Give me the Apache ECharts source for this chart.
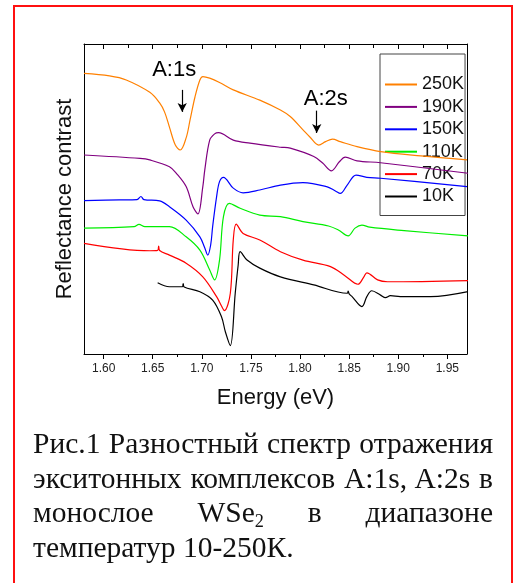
<!DOCTYPE html>
<html>
<head>
<meta charset="utf-8">
<script src="https://cdn.jsdelivr.net/npm/echarts@6/dist/echarts.min.js"></script>
<style>
  html, body { margin: 0; padding: 0; background: #fff; }
  #wrap { position: relative; width: 514px; height: 583px; overflow: hidden; }
  #chart { position: absolute; left: 0; top: 0; width: 514px; height: 583px; }
  #frame { position: absolute; left: 13px; top: 5px; width: 500px; height: 640px;
           border: 2px solid #ff1010; box-sizing: border-box; pointer-events: none; }
  #caption { position: absolute; left: 33px; top: 426px; width: 460px;
             font-family: "Liberation Serif", "Times New Roman", serif; font-size: 29.5px;
             line-height: 34.5px; color: #111; }
  #caption div { white-space: nowrap; }
  #caption .j { text-align: justify; text-align-last: justify; }
  #caption sub { font-size: 0.62em; vertical-align: baseline; position: relative; top: 0.25em; line-height: 0; }
</style>
</head>
<body>
<div id="wrap">
  <div id="chart"></div>
  <div id="frame"></div>
  <div id="caption">
    <div class="j">Рис.1 Разностный спектр отражения</div>
    <div class="j">экситонных комплексов A:1s, A:2s в</div>
    <div class="j">монослое WSe<sub>2</sub> в диапазоне</div>
    <div>температур 10-250К.</div>
  </div>
</div>
<script>
// Reflectance contrast spectra, [energy eV, contrast a.u. with vertical offsets]
const k250 = [[1.580,9.05],[1.606,8.97],[1.623,8.84],[1.647,8.44],[1.657,8.10],[1.662,7.81],[1.667,7.32],[1.673,6.74],[1.678,6.58],[1.684,6.97],[1.688,7.55],[1.693,8.29],[1.698,8.84],[1.701,8.95],[1.708,8.90],[1.718,8.76],[1.732,8.52],[1.759,8.19],[1.780,7.87],[1.790,7.66],[1.803,7.23],[1.810,7.00],[1.819,6.74],[1.826,6.85],[1.833,6.93],[1.841,6.85],[1.858,6.69],[1.882,6.53],[1.923,6.39],[1.970,6.26]];
const k190 = [[1.580,6.42],[1.637,6.31],[1.647,6.26],[1.667,6.04],[1.674,5.83],[1.684,5.40],[1.691,4.75],[1.696,4.52],[1.701,5.40],[1.703,5.94],[1.708,6.90],[1.713,7.10],[1.717,7.14],[1.732,6.90],[1.749,6.80],[1.780,6.67],[1.790,6.64],[1.814,6.37],[1.823,6.16],[1.832,5.91],[1.840,6.20],[1.846,6.35],[1.858,6.23],[1.882,6.17],[1.971,5.83]];
const k150 = [[1.580,4.95],[1.616,4.97],[1.634,4.98],[1.638,5.08],[1.641,4.98],[1.657,4.94],[1.667,4.75],[1.684,4.32],[1.698,3.78],[1.703,3.42],[1.706,3.19],[1.709,3.52],[1.711,4.11],[1.715,5.07],[1.718,5.56],[1.722,5.70],[1.732,5.35],[1.742,5.20],[1.759,5.29],[1.780,5.45],[1.803,5.53],[1.827,5.40],[1.836,5.26],[1.841,5.18],[1.848,5.45],[1.857,5.77],[1.868,5.70],[1.882,5.67],[1.970,5.40]];
const k110 = [[1.580,4.06],[1.631,4.11],[1.636,4.18],[1.642,4.11],[1.667,4.11],[1.684,3.78],[1.698,3.35],[1.708,2.71],[1.713,2.39],[1.718,3.03],[1.722,4.43],[1.728,4.86],[1.739,4.70],[1.759,4.48],[1.780,4.43],[1.803,4.27],[1.829,4.13],[1.839,4.00],[1.849,3.81],[1.856,4.06],[1.863,4.16],[1.871,4.09],[1.906,3.98],[1.971,3.81]];
const k70 = [[1.580,3.57],[1.647,3.33],[1.655,3.34],[1.656,3.48],[1.657,3.34],[1.667,3.19],[1.684,2.93],[1.701,2.49],[1.715,1.85],[1.720,1.55],[1.723,1.40],[1.729,1.96],[1.732,3.68],[1.735,4.19],[1.742,3.89],[1.759,3.68],[1.780,3.30],[1.803,3.03],[1.831,2.82],[1.846,2.52],[1.859,2.25],[1.865,2.49],[1.868,2.62],[1.879,2.39],[1.889,2.33],[1.971,2.37]];
const k10 = [[1.655,2.30],[1.667,2.17],[1.680,2.17],[1.681,2.27],[1.682,2.16],[1.698,2.01],[1.711,1.74],[1.720,1.20],[1.724,0.71],[1.729,0.27],[1.734,1.96],[1.737,2.87],[1.739,3.30],[1.746,3.03],[1.759,2.77],[1.780,2.49],[1.814,2.23],[1.848,1.96],[1.849,2.03],[1.850,1.94],[1.853,1.85],[1.863,1.53],[1.868,1.85],[1.873,2.04],[1.882,1.90],[1.887,1.82],[1.892,1.88],[1.902,1.85],[1.933,1.85],[1.971,2.01]];

const temps = ['250K', '190K', '150K', '110K', '70K', '10K'];
const colors = ['#ff8000', '#800080', '#0000ff', '#00ee00', '#ff0000', '#000000'];
const spectra = [k250, k190, k150, k110, k70, k10];

const xTicks = [1.60, 1.65, 1.70, 1.75, 1.80, 1.85, 1.90, 1.95];
const xMinor = [1.625, 1.675, 1.725, 1.775, 1.825, 1.875, 1.925];

// Exciton markers: [label, energy, arrow top, arrow tip]
const a1s = ['A:1s', 1.680, 8.52, 7.81];
const a2s = ['A:2s', 1.817, 7.85, 7.13];

const sans = '"Liberation Sans", Arial, sans-serif';
const chart = echarts.init(document.getElementById('chart'), null, { renderer: 'canvas' });

const baseX = { type: 'value', min: 1.58, max: 1.97, splitLine: { show: false } };

function markItem(m, dx, dy) {
  return [
    { name: m[0], coord: [m[1], m[2]], label: { offset: [dx, dy] } },
    { coord: [m[1], m[3]] }
  ];
}

const series = spectra.map((d, i) => ({
  name: temps[i], type: 'line', data: d, xAxisIndex: 0, yAxisIndex: 0,
  symbol: 'none', smooth: 0.35,
  lineStyle: { color: colors[i], width: 1.2 }, itemStyle: { color: colors[i] },
  z: 2 + (6 - i)
}));

series[0].markLine = {
  silent: true, animation: false,
  symbol: ['none', 'arrow'], symbolSize: [7, 9],
  lineStyle: { color: '#000', width: 1.2, type: 'solid' },
  label: { show: true, position: 'start', formatter: '{b}', color: '#000',
           fontFamily: sans, fontSize: 22, distance: 4 },
  data: [markItem(a1s, -8, -5), markItem(a2s, 9, 3)]
};

chart.setOption({
  animation: false,
  backgroundColor: '#fff',
  grid: { left: 84, right: 47, top: 44, bottom: 229, containLabel: false },
  legend: {
    orient: 'vertical', left: 380, top: 54,
    padding: [21.5, 1, 10, 5], itemGap: 4.4, itemWidth: 32, itemHeight: 2,
    backgroundColor: '#fff', borderColor: '#444', borderWidth: 1, borderRadius: 0,
    textStyle: { fontFamily: sans, fontSize: 18, color: '#111' },
    data: temps.map(t => ({ name: t, icon: 'rect' }))
  },
  xAxis: [
    Object.assign({}, baseX, {
      position: 'bottom',
      axisLine: { show: true, lineStyle: { color: '#000', width: 1 } },
      axisTick: { show: true, inside: false, length: 5, customValues: xTicks, lineStyle: { color: '#000' } },
      axisLabel: { show: true, customValues: xTicks, margin: 9, formatter: v => v.toFixed(2),
                   fontFamily: sans, fontSize: 12, color: '#222' },
      name: 'Energy (eV)', nameLocation: 'middle', nameGap: 33,
      nameTextStyle: { fontFamily: sans, fontSize: 22, color: '#111' }
    }),
    Object.assign({}, baseX, {
      position: 'bottom', axisLine: { show: false }, axisLabel: { show: false },
      axisTick: { show: true, inside: false, length: 3, customValues: xMinor, lineStyle: { color: '#000' } }
    }),
    Object.assign({}, baseX, {
      position: 'top',
      axisLine: { show: true, lineStyle: { color: '#000', width: 1 } },
      axisTick: { show: true, inside: true, length: 5, customValues: xTicks, lineStyle: { color: '#000' } },
      axisLabel: { show: false }
    }),
    Object.assign({}, baseX, {
      position: 'top', axisLine: { show: false }, axisLabel: { show: false },
      axisTick: { show: true, inside: true, length: 4, customValues: xMinor, lineStyle: { color: '#000' } }
    })
  ],
  yAxis: [
    {
      type: 'value', min: 0, max: 10, position: 'left',
      axisLine: { show: true, lineStyle: { color: '#000', width: 1 } },
      axisTick: { show: false }, axisLabel: { show: false }, splitLine: { show: false },
      name: 'Reflectance contrast', nameLocation: 'middle', nameGap: 8,
      nameTextStyle: { fontFamily: sans, fontSize: 22, color: '#111' }
    },
    {
      type: 'value', min: 0, max: 10, position: 'right',
      axisLine: { show: true, lineStyle: { color: '#000', width: 1 } },
      axisTick: { show: false }, axisLabel: { show: false }, splitLine: { show: false }
    }
  ],
  series: series
});
</script>
</body>
</html>
